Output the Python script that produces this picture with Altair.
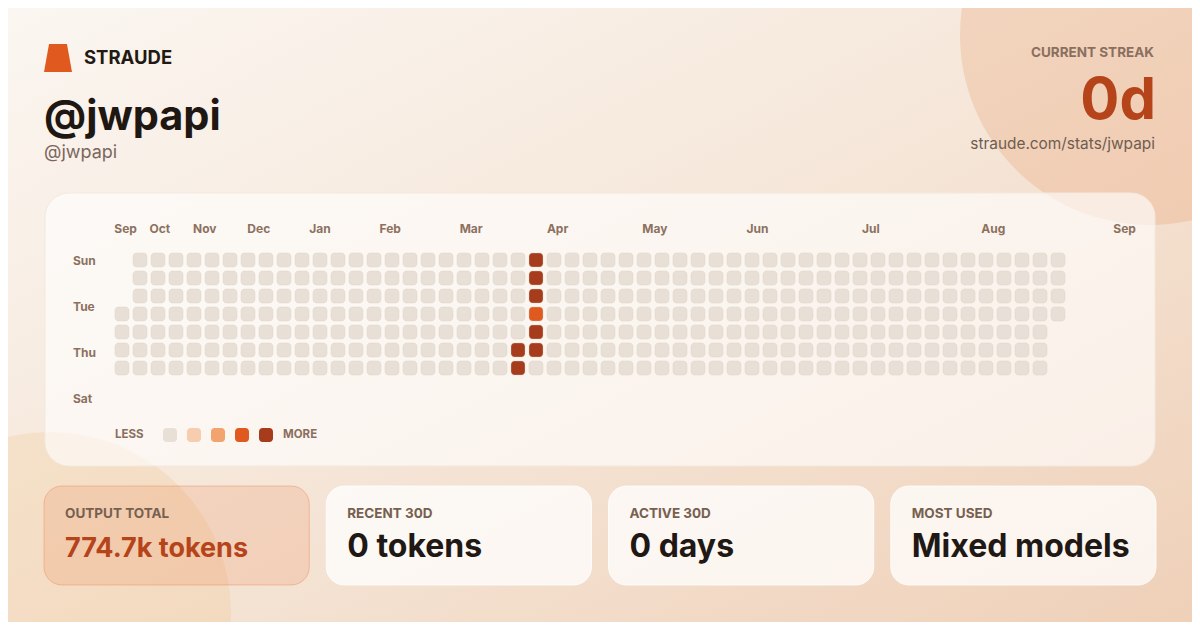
import altair as alt
import pandas as pd

# ---------------- data ----------------
brand = "STRAUDE"
handle = "@jwpapi"
sub_handle = "@jwpapi"
streak_label = "CURRENT STREAK"
streak_value = "0d"
profile_url = "straude.com/stats/jwpapi"

months = ["Sep", "Oct", "Nov", "Dec", "Jan", "Feb", "Mar", "Apr", "May", "Jun", "Jul", "Aug", "Sep"]
month_weeks = [0.2, 2.1, 4.6, 7.6, 11.0, 14.9, 19.4, 24.2, 29.6, 35.3, 41.6, 48.4, 55.7]
day_names = ["Sun", "Tue", "Thu", "Sat"]
day_rows = [0, 2, 4, 6]

n_weeks = 53
first_week_start_day = 3
last_week_end_day = 3
active_weeks = [22, 22, 23, 23, 23, 23, 23, 23]
active_days = [5, 6, 0, 1, 2, 3, 4, 5]
active_levels = [4, 4, 4, 4, 4, 3, 4, 4]

levels = [0, 1, 2, 3, 4]
level_colors = ["#E8E0D6", "#F6CDAF", "#F2A46E", "#E0591F", "#A63C1B"]

stat_labels = ["OUTPUT TOTAL", "RECENT 30D", "ACTIVE 30D", "MOST USED"]
stat_values = ["774.7k tokens", "0 tokens", "0 days", "Mixed models"]

# ---------------- tables ----------------
cells = []
for w in range(n_weeks):
    for d in range(7):
        if w == 0 and d < first_week_start_day:
            continue
        if w == n_weeks - 1 and d > last_week_end_day:
            continue
        cells.append({"week": w, "day": d, "level": 0})
lookup = {(w, d): l for w, d, l in zip(active_weeks, active_days, active_levels)}
for c in cells:
    c["level"] = lookup.get((c["week"], c["day"]), 0)
cells_df = pd.DataFrame(cells)
months_df = pd.DataFrame({"month": months, "mw": month_weeks})
days_df = pd.DataFrame({"day": day_names, "row": day_rows})
legend_df = pd.DataFrame({"level": levels})
stats_df = pd.DataFrame({"label": stat_labels, "value": stat_values,
                         "hl": [i == 0 for i in range(len(stat_labels))]})
one = pd.DataFrame({"a": [0]})

M = 8  # page margin


def P(v):
    return v - M


W, H = 1200 - 2 * M, 630 - 2 * M
FONT = "Inter"
color_scale = alt.Scale(domain=levels, range=level_colors)

bg = alt.Chart(one).mark_rect(
    fill=alt.Gradient(gradient="linear", x1=0, y1=0, x2=1, y2=1,
                      stops=[alt.GradientStop(color="#FBF6F1", offset=0),
                             alt.GradientStop(color="#F5E6D8", offset=0.5),
                             alt.GradientStop(color="#EFD0B8", offset=1)])
).encode(x=alt.value(0), x2=alt.value(W), y=alt.value(0), y2=alt.value(H))

# Vega circle symbol: radius = sqrt(size) / 2
circle_tr = alt.Chart(one).mark_circle(color="#E8955F", opacity=0.25, size=(2 * 190) ** 2).encode(
    x=alt.value(P(1150)), y=alt.value(P(35)))
circle_bl = alt.Chart(one).mark_circle(color="#F2C48E", opacity=0.28, size=(2 * 181) ** 2).encode(
    x=alt.value(P(50)), y=alt.value(P(613)))

logo = alt.Chart(one).mark_point(
    shape="M-0.64,-1L0.64,-1L1,1L-1,1Z", filled=True, size=784, color="#E0591F", opacity=1, strokeWidth=0
).encode(x=alt.value(P(58)), y=alt.value(P(58)))


def txt(s, x, y, size, color, weight="normal", align="left", baseline="alphabetic"):
    return alt.Chart(pd.DataFrame({"t": [s]})).mark_text(
        font=FONT, fontSize=size, fontWeight=weight, color=color, align=align, baseline=baseline
    ).encode(x=alt.value(P(x)), y=alt.value(P(y)), text="t:N")


brand_t = txt(brand, 84, 64, 18.5, "#231913", "bold")
handle_t = txt(handle, 44, 130, 41.5, "#1F1712", "bold")
sub_t = txt(sub_handle, 44, 158, 18, "#7B675B")
streak_l = txt(streak_label, 1154, 57, 13.5, "#8A6F5F", "bold", align="right")
streak_v = txt(streak_value, 1156, 119, 58, "#B5441B", "bold", align="right")
url_t = txt(profile_url, 1155, 149, 15.4, "#6F5C50", align="right")

card = alt.Chart(one).mark_rect(
    cornerRadius=24, fill="#FFFFFF", fillOpacity=0.62, stroke="#F3E8DE", strokeWidth=1
).encode(x=alt.value(P(45)), x2=alt.value(P(1155)), y=alt.value(P(193)), y2=alt.value(P(466)))

heat = alt.Chart(cells_df).mark_rect(
    cornerRadius=3.5, stroke="#D8CABD", strokeOpacity=0.35, strokeWidth=1
).encode(
    x=alt.X("week:O", scale=alt.Scale(type="band", domain=list(range(n_weeks)),
                                      range=[P(115), P(115 + 18 * n_weeks - 4)],
                                      paddingInner=4 / 18, paddingOuter=0), axis=None),
    y=alt.Y("day:O", scale=alt.Scale(type="band", domain=list(range(7)), range=[P(253), P(253 + 18 * 7 - 4)],
                                     paddingInner=4 / 18, paddingOuter=0), axis=None),
    color=alt.Color("level:O", scale=color_scale, legend=None),
)

month_t = alt.Chart(months_df).mark_text(
    font=FONT, fontSize=12, fontWeight="bold", color="#8C715F", align="center", baseline="middle"
).encode(
    x=alt.X("mw:Q", scale=alt.Scale(domain=[0, 52], range=[P(122), P(1058)], nice=False, zero=False), axis=None),
    y=alt.value(P(229)), text="month:N")

day_t = alt.Chart(days_df).mark_text(
    font=FONT, fontSize=12, fontWeight="bold", color="#8C715F", align="left", baseline="middle"
).encode(
    y=alt.Y("row:Q", scale=alt.Scale(domain=[0, 6], range=[P(261), P(399)], nice=False, zero=False), axis=None),
    x=alt.value(P(73)), text="day:N")

less_t = txt("LESS", 115, 435, 11.5, "#8A6F5F", "bold", baseline="middle")
more_t = txt("MORE", 283, 435, 11.5, "#8A6F5F", "bold", baseline="middle")
legend_sq = alt.Chart(legend_df).mark_rect(cornerRadius=3.5).encode(
    x=alt.X("level:O", scale=alt.Scale(type="band", domain=levels, range=[P(163), P(163 + 24 * 5 - 10)],
                                       paddingInner=10 / 24, paddingOuter=0), axis=None),
    y=alt.value(P(428)), y2=alt.value(P(442)),
    color=alt.Color("level:O", scale=color_scale, legend=None),
)

CARD_L, CARD_R, GAP = 44, 1156, 17
n_cards = len(stat_labels)
step = (CARD_R - CARD_L + GAP) / n_cards
band_w = step - GAP
text_dx = 21 - band_w / 2  # text sits at band centre; shift to the card's inner left edge

card_scale = alt.Scale(type="band", domain=stat_labels, range=[P(CARD_L), P(CARD_R)],
                       paddingInner=GAP / step, paddingOuter=0)
hl = "datum.hl"
stat_cards = alt.Chart(stats_df).mark_rect(cornerRadius=18, strokeWidth=1).encode(
    x=alt.X("label:N", scale=card_scale, axis=None),
    y=alt.value(P(486)), y2=alt.value(P(585)),
    fill=alt.condition(hl, alt.value("#E8642A"), alt.value("#FFFFFF")),
    fillOpacity=alt.condition(hl, alt.value(0.15), alt.value(0.75)),
    stroke=alt.condition(hl, alt.value("#E8642A"), alt.value("#FFFFFF")),
    strokeOpacity=alt.condition(hl, alt.value(0.3), alt.value(0.8)),
)
stat_lab = alt.Chart(stats_df).mark_text(
    font=FONT, fontSize=13.5, fontWeight="bold", color="#76604F", align="left", baseline="alphabetic",
    dx=text_dx
).encode(x=alt.X("label:N", scale=card_scale, axis=None),
         y=alt.value(P(518)), text="label:N")
stat_val = alt.Chart(stats_df).mark_text(
    font=FONT, fontWeight="bold", align="left", baseline="alphabetic", dx=text_dx
).encode(x=alt.X("label:N", scale=card_scale, axis=None),
         y=alt.value(P(557)), text="value:N",
         color=alt.condition(hl, alt.value("#B5441B"), alt.value("#1F1814")),
         size=alt.condition(hl, alt.value(27), alt.value(32)))

chart = alt.layer(
    bg, circle_tr, circle_bl, card, logo, brand_t, handle_t, sub_t, streak_l, streak_v, url_t,
    heat, month_t, day_t, less_t, more_t, legend_sq, stat_cards, stat_lab, stat_val
).resolve_scale(x="independent", y="independent", color="independent").properties(
    width=W, height=H, padding=0, autosize="none", background="#FBF6F1"
).configure_view(stroke=None, strokeWidth=0)

chart.save("out.html", embed_options={"renderer": "svg", "actions": False})
